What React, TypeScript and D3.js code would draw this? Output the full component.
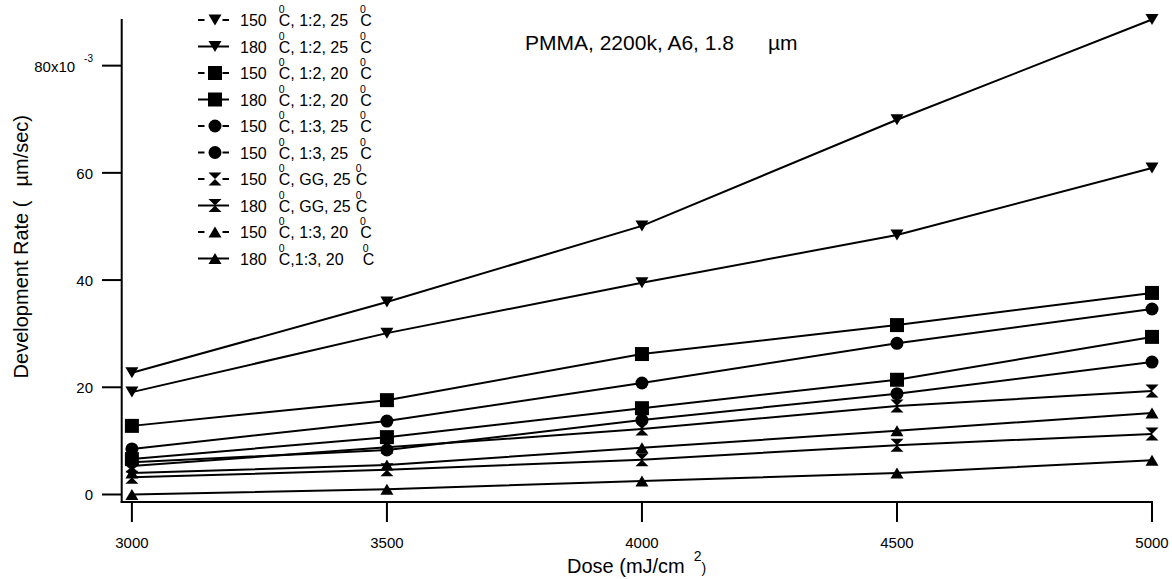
import React from 'react';
import * as d3 from 'd3';

// ---- data (development rate in units of 1e-3 µm/sec) ----
const doses = [3000, 3500, 4000, 4500, 5000];
const xTickValues = [3000, 3500, 4000, 4500, 5000];
const yTickValues = [0, 20, 40, 60, 80];

const seriesLabels = [
  '150 °C, 1:2, 25 °C',
  '180 °C, 1:2, 25 °C',
  '150 °C, 1:2, 20 °C',
  '180 °C, 1:2, 20 °C',
  '150 °C, 1:3, 25 °C',
  '150 °C, 1:3, 25 °C',
  '150 °C, GG, 25°C',
  '180 °C, GG, 25°C',
  '150 °C, 1:3, 20 °C',
  '180 °C,1:3, 20  °C',
];
const seriesMarkers = ['down', 'down', 'square', 'square', 'circle', 'circle', 'hourglass', 'hourglass', 'up', 'up'];

const rate150_12_25 = [19.1, 30.1, 39.5, 48.4, 60.9];
const rate180_12_25 = [22.7, 35.9, 50.1, 69.9, 88.6];
const rate150_12_20 = [6.6, 10.7, 16.1, 21.4, 29.4];
const rate180_12_20 = [12.8, 17.6, 26.2, 31.6, 37.6];
const rate150_13_25a = [8.5, 13.7, 20.8, 28.2, 34.6];
const rate150_13_25b = [6.0, 8.3, 13.9, 18.8, 24.7];
const rate150_GG_25 = [5.3, 8.8, 12.2, 16.5, 19.3];
const rate180_GG_25 = [3.2, 4.6, 6.5, 9.2, 11.3];
const rate150_13_20 = [4.0, 5.5, 8.7, 11.9, 15.2];
const rate180_13_20 = [0.0, 1.0, 2.5, 4.0, 6.4];

const seriesValues = [
  rate150_12_25, rate180_12_25, rate150_12_20, rate180_12_20, rate150_13_25a,
  rate150_13_25b, rate150_GG_25, rate180_GG_25, rate150_13_20, rate180_13_20,
];

const titleText = 'PMMA, 2200k, A6, 1.8';
const titleUnit = 'µm';

const FONT = '"Liberation Sans", Arial, Helvetica, sans-serif';

function markerPath(kind: string): string {
  switch (kind) {
    case 'down':
      return 'M-6.5,-5.5L6.5,-5.5L0,5.5Z';
    case 'up':
      return 'M-6.5,5.5L6.5,5.5L0,-5.5Z';
    case 'square':
      return 'M-7,-7H7V7H-7Z';
    case 'hourglass':
      return 'M-6.5,-6.5H6.5L-6.5,6.5H6.5Z';
    case 'circle':
    default:
      return d3.symbol().type(d3.symbolCircle).size(Math.PI * 6.5 * 6.5)() || '';
  }
}

function LegendLabel({ label, x, y }: { label: string; x: number; y: number }) {
  const parts = label.split('°');
  const kids: React.ReactNode[] = [];
  let prevSpaces = 0;
  parts.forEach((p, i) => {
    const trimmed = p.replace(/\s+$/, '');
    const trailing = p.length - trimmed.length;
    if (i > 0) {
      kids.push(
        <tspan key={'s' + i} dx={5 + 7 * prevSpaces} dy={-13} fontSize={10.5}>0</tspan>
      );
      kids.push(
        <tspan key={'p' + i} dx={-5.8} dy={13}>{trimmed}</tspan>
      );
    } else {
      kids.push(<tspan key={'p' + i}>{trimmed}</tspan>);
    }
    prevSpaces = trailing;
  });
  return (
    <text x={x} y={y} fontSize={16}>
      {kids}
    </text>
  );
}

export default function App() {
  const W = 1172;
  const H = 579;
  const left = 121.7;
  const right = 1152;
  const top = 19;
  const bottom = 502;

  const x = d3.scaleLinear().domain([2980, 5000]).range([left, right]);
  const y = d3.scaleLinear().domain([-1.4, 88.7]).range([bottom, top]);

  const line = d3
    .line<number>()
    .x((_, i) => x(doses[i]))
    .y((d) => y(d));

  const legendX0 = 198;
  const legendX1 = 229;
  const legendMX = 215;
  const legendTextX = 240;
  const legendY0 = 20;
  const legendDY = 26.5;

  return (
    <svg
      width={W}
      height={H}
      style={{ position: 'absolute', left: 0, top: 0, background: '#fff' }}
      fontFamily={FONT}
    >
      <rect x={0} y={0} width={W} height={H} fill="#fff" />

      {/* axes */}
      <line x1={left} x2={left} y1={top} y2={bottom + 1} stroke="#000" strokeWidth={2} />
      <line x1={left - 1} x2={right + 1} y1={bottom} y2={bottom} stroke="#000" strokeWidth={2} />

      {/* y ticks */}
      {yTickValues.map((v) => (
        <g key={'yt' + v}>
          <line x1={102} x2={left} y1={y(v)} y2={y(v)} stroke="#000" strokeWidth={2} />
          <text x={93} y={y(v) + 6} fontSize={15} textAnchor="end">
            {v === 80 ? (
              <>
                {'80x10'}
                <tspan dx={9} dy={-10} fontSize={10}>-3</tspan>
              </>
            ) : (
              String(v)
            )}
          </text>
        </g>
      ))}

      {/* x ticks */}
      {xTickValues.map((v) => (
        <g key={'xt' + v}>
          <line x1={x(v)} x2={x(v)} y1={bottom} y2={522} stroke="#000" strokeWidth={2} />
          <text x={x(v)} y={548} fontSize={15} textAnchor="middle">
            {String(v)}
          </text>
        </g>
      ))}

      {/* axis labels */}
      <text x={567} y={573} fontSize={20}>
        Dose (mJ/cm
        <tspan dx={9} dy={-12} fontSize={14}>2</tspan>
        <tspan dy={12} fontSize={14}>)</tspan>
      </text>
      <text transform="translate(28,115) rotate(-90)" fontSize={20} textAnchor="end">
        Development Rate (
        <tspan dx={14}>µm/sec)</tspan>
      </text>

      {/* title */}
      <text x={525} y={50} fontSize={21}>{titleText}</text>
      <text x={768} y={50} fontSize={21}>{titleUnit}</text>

      {/* series */}
      {seriesValues.map((vals, si) => (
        <g key={'s' + si}>
          <path d={line(vals) || ''} fill="none" stroke="#000" strokeWidth={2} />
          {vals.map((v, i) => (
            <path
              key={i}
              d={markerPath(seriesMarkers[si])}
              transform={`translate(${x(doses[i])},${y(v)})`}
              fill="#000"
            />
          ))}
        </g>
      ))}

      {/* legend */}
      {seriesLabels.map((lab, i) => {
        const cy = legendY0 + i * legendDY;
        const broken = lab.startsWith('150');
        return (
          <g key={'lg' + i}>
            {broken ? (
              <>
                <line x1={legendX0} x2={legendX0 + 6.5} y1={cy} y2={cy} stroke="#000" strokeWidth={2} />
                <line x1={legendX1 - 6.5} x2={legendX1} y1={cy} y2={cy} stroke="#000" strokeWidth={2} />
              </>
            ) : (
              <line x1={legendX0} x2={legendX1} y1={cy} y2={cy} stroke="#000" strokeWidth={2} />
            )}
            <path d={markerPath(seriesMarkers[i])} transform={`translate(${legendMX},${cy})`} fill="#000" />
            <LegendLabel label={lab} x={legendTextX} y={cy + 6} />
          </g>
        );
      })}
    </svg>
  );
}
